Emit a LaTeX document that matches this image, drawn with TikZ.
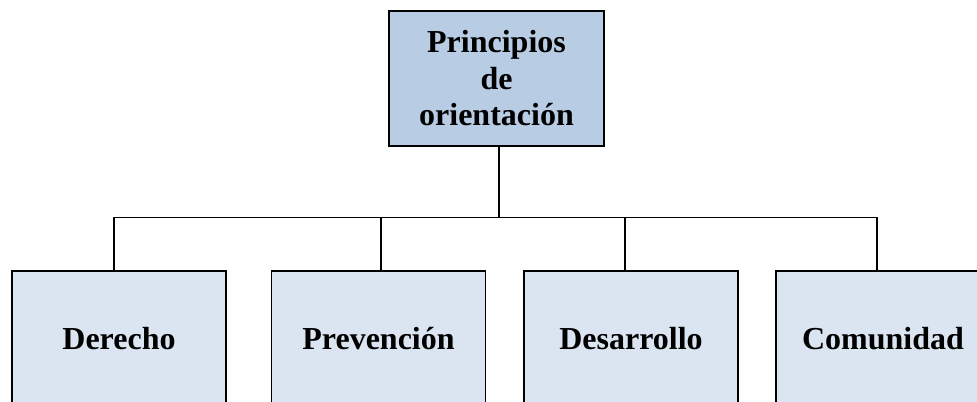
\documentclass[tikz,border=0pt]{standalone}
\usepackage{fontspec}
\setmainfont{Liberation Serif}
\usetikzlibrary{calc}

\begin{document}
\begin{tikzpicture}[
  x=0.75pt, y=-0.75pt,
  line cap=rect,
  line join=miter,
  rootbox/.style={draw, line width=1.1pt, fill=rootblue, align=center,
    minimum width=161pt, minimum height=101pt, inner sep=0pt,
    font=\fontsize{24}{27.4}\selectfont\bfseries},
  leafbox/.style={rootbox, fill=leafblue, minimum width=160.5pt, minimum height=102pt},
  link/.style={line width=0.9pt}
]
\definecolor{rootblue}{HTML}{B8CCE4}
\definecolor{leafblue}{HTML}{DBE5F1}

\clip (0,0) rectangle (977,401);
\useasboundingbox (0,0) rectangle (977,401);

\node[rootbox] (root) at (496.5,78.5) {Principios\\de\\orientaci\'on};

\node[leafbox] (derecho)    at (119,339)   {Derecho};
\node[leafbox] (prevencion) at (378.5,339) {Prevenci\'on};
\node[leafbox] (desarrollo) at (631,339)   {Desarrollo};
\node[leafbox] (comunidad)  at (883,339)   {Comunidad};

% drop points (a little off the box centres)
\coordinate (roottop) at ($(root.south)+(2.5,0)$);
\coordinate (dertop)  at ($(derecho.north)+(-5,0)$);
\coordinate (prevtop) at ($(prevencion.north)+(2.5,0)$);
\coordinate (destop)  at ($(desarrollo.north)+(-6,0)$);
\coordinate (comtop)  at ($(comunidad.north)+(-6,0)$);
\coordinate (bus) at ($(roottop)+(0,71)$);

\draw[link] (roottop) -- (bus);
\draw[link] (dertop) |- (bus) -| (comtop);
\draw[link] (prevtop) -- (prevtop |- bus);
\draw[link] (destop) -- (destop |- bus);

\end{tikzpicture}
\end{document}
